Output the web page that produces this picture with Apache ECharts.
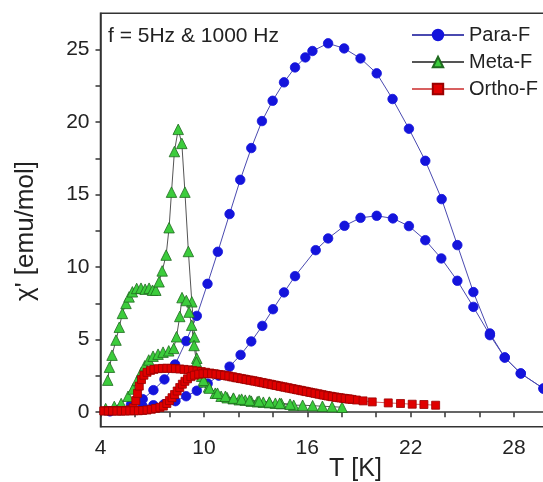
<!DOCTYPE html>
<html>
<head>
<meta charset="utf-8">
<script src="https://cdn.jsdelivr.net/npm/echarts@6/dist/echarts.min.js"></script>
<style>
  html, body { margin: 0; padding: 0; background: #fff; }
  #main { width: 543px; height: 482px; }
</style>
</head>
<body>
<div id="main"></div>
<script>
// T [K], chi' [emu/mol]
const paraA = [[4.55,0.07],[5.16,0.2],[5.77,0.53],[6.45,0.9],[7.07,1.52],[7.71,2.26],[8.33,3.29],[8.97,4.9],[9.59,6.64],[10.21,8.85],[10.81,11.06],[11.49,13.66],[12.11,16.02],[12.75,18.21],[13.37,20.07],[13.99,21.47],[14.65,22.74],[15.29,23.77],[15.89,24.46],[16.3,24.9],[17.21,25.43],[18.14,25.08],[19.09,24.39],[20.03,23.36],[20.95,21.59],[21.9,19.54],[22.85,17.33],[23.8,14.69],[24.71,11.52],[25.64,8.28],[26.6,5.43],[27.46,3.77],[28.39,2.67],[29.71,1.63]];
const paraB = [[4.55,0.07],[5.19,0.14],[5.8,0.28],[6.45,0.41],[7.07,0.48],[7.69,0.55],[8.35,0.76],[8.97,1.1],[9.59,1.48],[10.22,1.97],[10.86,2.52],[11.49,3.14],[12.13,3.95],[12.75,4.88],[13.39,5.95],[14.01,7.1],[14.65,8.26],[15.29,9.38],[16.49,11.17],[17.21,11.98],[18.16,12.85],[19.09,13.4],[20.03,13.54],[20.97,13.36],[21.9,12.83],[22.85,11.86],[23.78,10.6],[24.71,9.06],[25.64,7.26],[26.6,5.31],[27.46,3.77],[28.39,2.67],[29.71,1.63]];

const metaA = [[4.42,2.21],[4.52,3.1],[4.67,3.93],[4.9,4.97],[5.09,5.86],[5.27,6.81],[5.48,7.5],[5.66,7.95],[5.85,8.3],[6.1,8.53],[6.35,8.55],[6.59,8.48],[6.82,8.55],[7.02,8.41],[7.21,8.41],[7.4,8.99],[7.58,9.74],[7.81,10.83],[7.98,12.72],[8.12,15.17],[8.29,17.97],[8.51,19.5],[8.72,18.53],[8.9,15.17],[9.1,11.08],[9.3,7.61],[9.45,5.19],[9.59,3.72],[9.73,2.97],[9.87,2.48],[10.02,2.09],[10.27,1.74],[10.66,1.31],[11.0,1.1],[11.35,1.0],[11.7,0.93],[12.05,0.86],[12.4,0.83],[12.75,0.76],[13.1,0.72],[13.45,0.69],[13.8,0.66],[14.15,0.62],[14.5,0.59],[15.21,0.48],[15.73,0.48],[16.31,0.45],[16.88,0.41],[17.44,0.38],[18.02,0.34]];
const metaB = [[4.3,0.25],[4.8,0.4],[5.2,0.6],[5.6,1.1],[5.88,1.6],[6.14,2.2],[6.37,2.75],[6.57,3.2],[6.8,3.6],[7.05,3.86],[7.34,4.0],[7.63,4.14],[7.96,4.23],[8.25,4.4],[8.41,5.2],[8.6,6.6],[8.73,7.9],[8.98,7.7],[9.14,6.9],[9.29,6.0],[9.43,4.6],[9.57,3.45],[9.75,2.76],[9.98,2.2],[10.32,1.66],[10.79,1.31],[11.25,1.1],[11.72,0.97],[12.19,0.9],[12.65,0.83],[13.2,0.76],[13.8,0.7],[14.4,0.62],[15.0,0.55]];

const orthoA = [[4.2,0.1],[4.45,0.1],[4.7,0.1],[4.95,0.1],[5.2,0.1],[5.45,0.12],[5.7,0.16],[5.9,0.3],[6.05,0.8],[6.15,1.3],[6.25,1.8],[6.38,2.25],[6.52,2.55],[6.7,2.75],[6.9,2.88],[7.1,2.95],[7.35,3.0],[7.6,3.02],[7.85,3.03],[8.1,3.02],[8.35,3.0],[8.6,2.98],[8.85,2.95],[9.1,2.92],[9.35,2.88],[9.6,2.84],[9.85,2.8],[10.1,2.75],[10.35,2.7],[10.6,2.65],[10.85,2.6],[11.1,2.55],[11.35,2.5],[11.6,2.44],[11.85,2.38],[12.1,2.33],[12.35,2.28],[12.6,2.22],[12.85,2.17],[13.1,2.11],[13.35,2.05],[13.6,1.99],[13.85,1.93],[14.1,1.87],[14.35,1.81],[14.6,1.75],[14.85,1.69],[15.1,1.63],[15.35,1.57],[15.6,1.51],[15.85,1.45],[16.1,1.39],[16.35,1.33],[16.6,1.27],[16.85,1.21],[17.1,1.15],[17.35,1.1],[17.6,1.05],[17.85,1.0],[18.1,0.96],[18.35,0.92],[18.6,0.88],[18.85,0.84],[19.24,0.78],[19.77,0.71],[20.7,0.64],[21.41,0.6],[22.09,0.55],[22.77,0.53],[23.45,0.48]];
const orthoB = [[4.2,0.08],[4.45,0.08],[4.7,0.08],[4.95,0.08],[5.2,0.08],[5.45,0.08],[5.7,0.09],[5.95,0.1],[6.2,0.1],[6.45,0.12],[6.7,0.15],[6.95,0.2],[7.2,0.26],[7.45,0.33],[7.65,0.42],[7.85,0.6],[8.0,0.8],[8.15,1.0],[8.3,1.22],[8.45,1.46],[8.6,1.7],[8.75,1.93],[8.9,2.13],[9.05,2.3],[9.25,2.45],[9.45,2.55],[9.7,2.62],[9.95,2.65],[10.2,2.66],[10.45,2.65],[10.7,2.62],[10.95,2.58],[11.2,2.54],[11.45,2.49],[11.7,2.43],[11.95,2.37],[12.2,2.31],[12.45,2.25],[12.7,2.2],[12.95,2.14],[13.2,2.08],[13.45,2.02],[13.7,1.96],[13.95,1.9],[14.2,1.84],[14.45,1.78],[14.7,1.72],[14.95,1.66],[15.2,1.6],[15.45,1.54],[15.7,1.48],[15.95,1.42],[16.2,1.36],[16.45,1.3],[16.7,1.24],[16.95,1.18],[17.2,1.12],[17.45,1.07],[17.7,1.02],[17.95,0.98],[18.2,0.94],[18.45,0.9]];

const xLabels = [4, 10, 16, 22, 28];
const yLabels = [0, 5, 10, 15, 20, 25];
const yTicks = [0, 2.5, 5, 7.5, 10, 12.5, 15, 17.5, 20, 22.5, 25];

const font = 'Liberation Sans, Arial, sans-serif';
const ink = '#222';

function line(name, data, symbol, size, fill, border, lineColor) {
  return {
    name: name,
    type: 'line',
    data: data,
    symbol: symbol,
    symbolSize: size,
    showAllSymbol: true,
    itemStyle: { color: fill, borderColor: border, borderWidth: 0.8 },
    lineStyle: { color: lineColor, width: 1 },
    emphasis: { disabled: true },
    animation: false
  };
}

const chart = echarts.init(document.getElementById('main'));
chart.setOption({
  backgroundColor: '#fff',
  animation: false,
  title: {
    text: 'f = 5Hz & 1000 Hz',
    left: 108, top: 26, padding: 0,
    textStyle: { fontFamily: font, fontSize: 21, fontWeight: 'normal', color: ink }
  },
  legend: {
    data: ['Para-F', 'Meta-F', 'Ortho-F'],
    orient: 'vertical',
    left: 411, top: 25, padding: 0,
    itemWidth: 52, itemHeight: 13, itemGap: 7,
    textStyle: { fontFamily: font, fontSize: 20, color: ink, lineHeight: 20 }
  },
  grid: {
    left: 100.5, width: 448, top: 13.3, bottom: 55.3,
    outerBoundsMode: 'none',
    show: true, borderColor: '#333', borderWidth: 1.5, containLabel: false
  },
  xAxis: {
    type: 'value', min: 4, max: 30, interval: 2,
    axisLine: { lineStyle: { color: '#333', width: 1.5 } },
    axisTick: { length: 5, lineStyle: { color: '#333', width: 1.5 } },
    axisLabel: {
      fontFamily: font, fontSize: 21, color: ink, margin: 11,
      formatter: v => xLabels.indexOf(v) >= 0 ? String(v) : ''
    },
    splitLine: { show: false },
    name: 'T [K]', nameLocation: 'middle', nameGap: 30, nameMoveOverlap: false,
    nameTextStyle: { fontFamily: font, fontSize: 25, color: ink, padding: [0, 0, 0, 62] }
  },
  yAxis: {
    type: 'value', min: -1, max: 27.5,
    axisLine: { show: true, lineStyle: { color: '#333', width: 1.5 } },
    axisTick: { show: true, length: 5, customValues: yTicks, lineStyle: { color: '#333', width: 1.5 } },
    axisLabel: { fontFamily: font, fontSize: 21, color: ink, margin: 11, customValues: yLabels },
    splitLine: { show: false },
    name: "χ' [emu/mol]", nameLocation: 'middle', nameGap: 62,
    nameTextStyle: { fontFamily: font, fontSize: 26, color: ink, padding: [0, 22, 0, 0] }
  },
  series: [
    line('Para-F', paraA, 'circle', 9.5, '#1414dc', '#1414dc', '#4a4ab0'),
    line('Para-F', paraB, 'circle', 9.5, '#1414dc', '#1414dc', '#4a4ab0'),
    line('Meta-F', metaA, 'triangle', 10.5, '#3ccc3c', '#1f6a1f', '#555'),
    line('Meta-F', metaB, 'triangle', 10.5, '#3ccc3c', '#1f6a1f', '#555'),
    line('Ortho-F', orthoA, 'rect', 8, '#e00000', '#9a0000', '#d86060'),
    line('Ortho-F', orthoB, 'rect', 8, '#e00000', '#9a0000', '#d86060')
  ]
});
</script>
</body>
</html>
